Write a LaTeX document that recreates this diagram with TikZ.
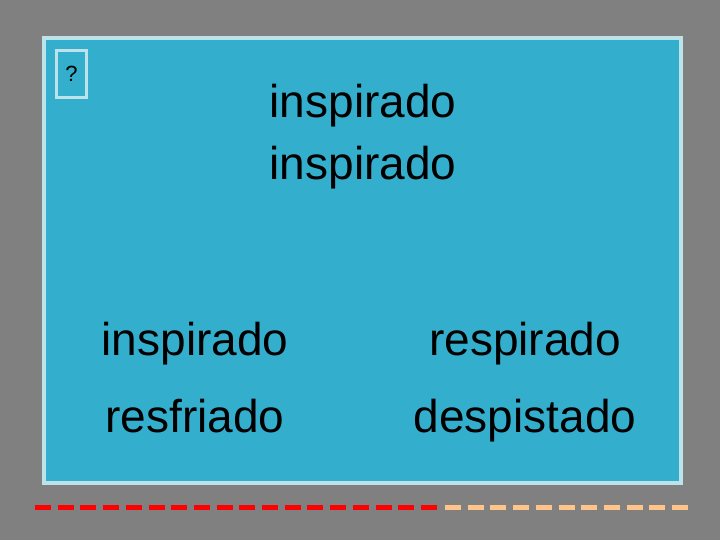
\documentclass[tikz,border=0pt]{standalone}
\usepackage{fontspec}
\setmainfont{Liberation Sans}
\begin{document}
\begin{tikzpicture}[x=1pt,y=-1pt,
  word/.style={font=\fontsize{46}{50}\selectfont, anchor=base, inner sep=0},
  dsh/.style={line width=5pt, dash pattern=on 16pt off 6.7pt}]
\definecolor{bg}{HTML}{808080}
\definecolor{panel}{HTML}{33AECD}
\definecolor{rim}{HTML}{BDE3EA}
\definecolor{peach}{HTML}{FFC48A}
\useasboundingbox (0,0) rectangle (720,540);
\fill[bg] (0,0) rectangle (720,540);
\node[draw=rim, line width=4pt, fill=panel, minimum width=637pt, minimum height=445pt, anchor=north west, inner sep=0] (panel) at (42,36) {};
\node[draw=rim, line width=3pt, minimum width=30pt, minimum height=47pt, anchor=north west, inner sep=0, font=\fontsize{22}{24}\selectfont] (q) at (55,49) {?};
\node[word] (t1) at (363,118) {inspirado};
\node[word] (t2) at (363,180) {inspirado};
\node[word] (a) at (195,355) {inspirado};
\node[word] (b) at (525,355) {respirado};
\node[word] (c) at (195,432) {resfriado};
\node[word] (d) at (525,432) {despistado};
\coordinate (r0) at (35,507);
\coordinate (r1) at (440,507);
\coordinate (p1) at (690,507);
\draw[dsh, red] (r0) -- (r1);
\draw[dsh, peach] (r1) ++(5,0) -- (p1);
\end{tikzpicture}
\end{document}
